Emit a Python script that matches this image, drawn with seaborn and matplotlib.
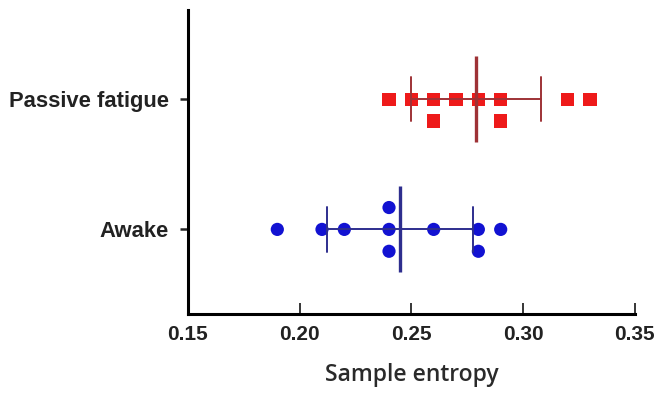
import pandas as pd
import matplotlib
matplotlib.use("Agg")
import matplotlib.pyplot as plt
import seaborn as sns

# data
groups = ["Passive fatigue", "Awake"]
passive_fatigue = [0.24, 0.25, 0.26, 0.26, 0.27, 0.28, 0.29, 0.29, 0.32, 0.33]
awake = [0.19, 0.21, 0.22, 0.24, 0.24, 0.24, 0.26, 0.28, 0.28, 0.29]
xticks = [0.15, 0.20, 0.25, 0.30, 0.35]

point_colors = {"Passive fatigue": "#ee1a1a", "Awake": "#1212d2"}
line_colors = {"Passive fatigue": "#9e3236", "Awake": "#2e2e8e"}
markers = {"Passive fatigue": "s", "Awake": "o"}

df = pd.DataFrame({
    "group": ["Passive fatigue"] * len(passive_fatigue) + ["Awake"] * len(awake),
    "entropy": passive_fatigue + awake,
})

sns.set_style("ticks")
plt.rcParams["font.family"] = ["Liberation Sans", "DejaVu Sans"]

fig = plt.figure(figsize=(6.57, 3.96), dpi=100)
ax = fig.add_axes([0.2861, 0.2083, 0.680, 0.7664])

# scatter of individual values (invisible edge widens the swarm spacing)
for g in groups:
    sns.swarmplot(data=df[df["group"] == g], x="entropy", y="group", order=groups,
                  color=point_colors[g], marker=markers[g], size=9.5,
                  linewidth=5.5, edgecolor="none", ax=ax, zorder=3)

# mean line + SD error bars
sns.pointplot(data=df, x="entropy", y="group", order=groups, hue="group",
              hue_order=groups, palette=line_colors, errorbar="sd", capsize=0.34,
              marker="|", markersize=62, markeredgewidth=2.4, linestyle="none",
              err_kws={"linewidth": 1.4}, legend=False, ax=ax, zorder=4)

ax.set_xlim(0.15, 0.35)
ax.set_ylim(1.646, -0.685)
ax.set_xticks(xticks)
ax.set_xticklabels([f"{t:.2f}" for t in xticks])

sns.despine(ax=ax)
for side in ["left", "bottom"]:
    ax.spines[side].set_linewidth(2.2)
    ax.spines[side].set_color("black")

ax.tick_params(axis="x", direction="in", length=8, width=1.3, pad=8,
               labelsize=15, labelcolor="#222222")
ax.tick_params(axis="y", direction="out", length=6, width=1.8, pad=8,
               labelsize=15.8, labelcolor="#222222")
for lab in ax.get_xticklabels() + ax.get_yticklabels():
    lab.set_fontweight("bold")

ax.set_ylabel("")
ax.set_xlabel("Sample entropy", fontsize=16.5, family="Open Sans",
              fontweight="semibold", color="#2a2a2a", labelpad=14)

fig.savefig("out.png", dpi=100)
